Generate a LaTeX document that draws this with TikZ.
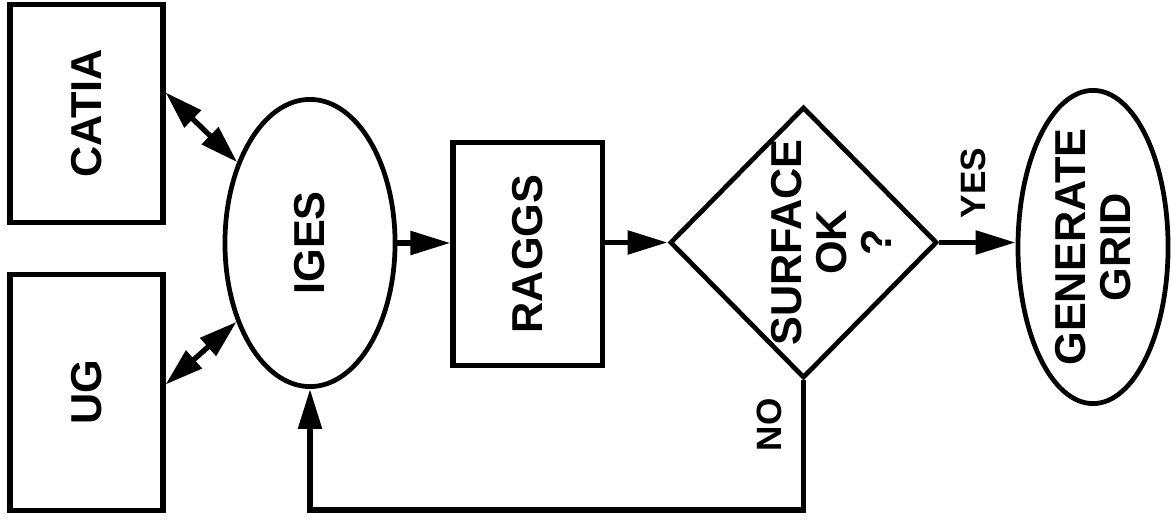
\documentclass[tikz,border=0pt]{standalone}
\usepackage{fontspec}
\setmainfont{Liberation Sans}
\usetikzlibrary{arrows.meta,shapes.geometric}

\begin{document}
\begin{tikzpicture}[x=0.01cm,y=-0.01cm,
  every node/.style={font=\fontsize{12.3}{12.8}\selectfont\bfseries},
  box/.style={draw=black,line width=1.45pt,rectangle,inner sep=0pt},
  oval/.style={draw=black,line width=1.35pt,ellipse,inner sep=0pt},
  test/.style={draw=black,line width=1.35pt,diamond,inner sep=0pt},
  vtext/.style={label={[rotate=90,align=center]center:#1}},
  small/.style={font=\fontsize{10}{12}\selectfont\bfseries},
  flow/.style={line width=1.6pt,-{Triangle[length=0.4cm,width=0.23cm]}},
  both/.style={line width=1.5pt,{Triangle[length=0.38cm,width=0.23cm]}-{Triangle[length=0.38cm,width=0.23cm]}}]

\useasboundingbox (0,0) rectangle (1171,522);

\node[box, minimum width=1.53cm, minimum height=2.17cm, vtext=CATIA] (catia) at (86.5,113.5) {};
\node[box, minimum width=1.53cm, minimum height=2.35cm, vtext=UG] (ug) at (86.5,392.5) {};
\node[oval, minimum width=1.70cm, minimum height=2.87cm, vtext=IGES] (iges) at (310,243) {};
\node[box, minimum width=1.49cm, minimum height=2.22cm, vtext=RAGGS] (raggs) at (527.5,254) {};
\node[test, minimum width=2.67cm, minimum height=2.71cm,
      label={[xshift=0.28cm,rotate=90,align=center]center:SURFACE\\OK\\?}] (surf) at (803.5,242.5) {};
\node[oval, minimum width=1.50cm, minimum height=3.13cm, vtext={GENERATE\\GRID}] (grid) at (1093,247) {};

\node[small, rotate=90] (yes) at (973,183) {YES};
\node[small, rotate=90] (no) at (769,425) {NO};

% CAD systems exchange through IGES
\draw[both] ([yshift=0.21cm]catia.east) -- (iges.132);
\draw[both] ([yshift=0.08cm]ug.east) -- (iges.227);

\draw[flow] (iges.east) -- (iges.east -| raggs.west);
\draw[flow] (surf.west -| raggs.east) -- (surf.west);
\draw[flow] (surf.east) -- (surf.east -| grid.west);

% surface rejected: back to IGES
\coordinate (back) at (803.5,510);
\draw[flow] (surf.south) -- (back) -| (iges.south);
\end{tikzpicture}
\end{document}
